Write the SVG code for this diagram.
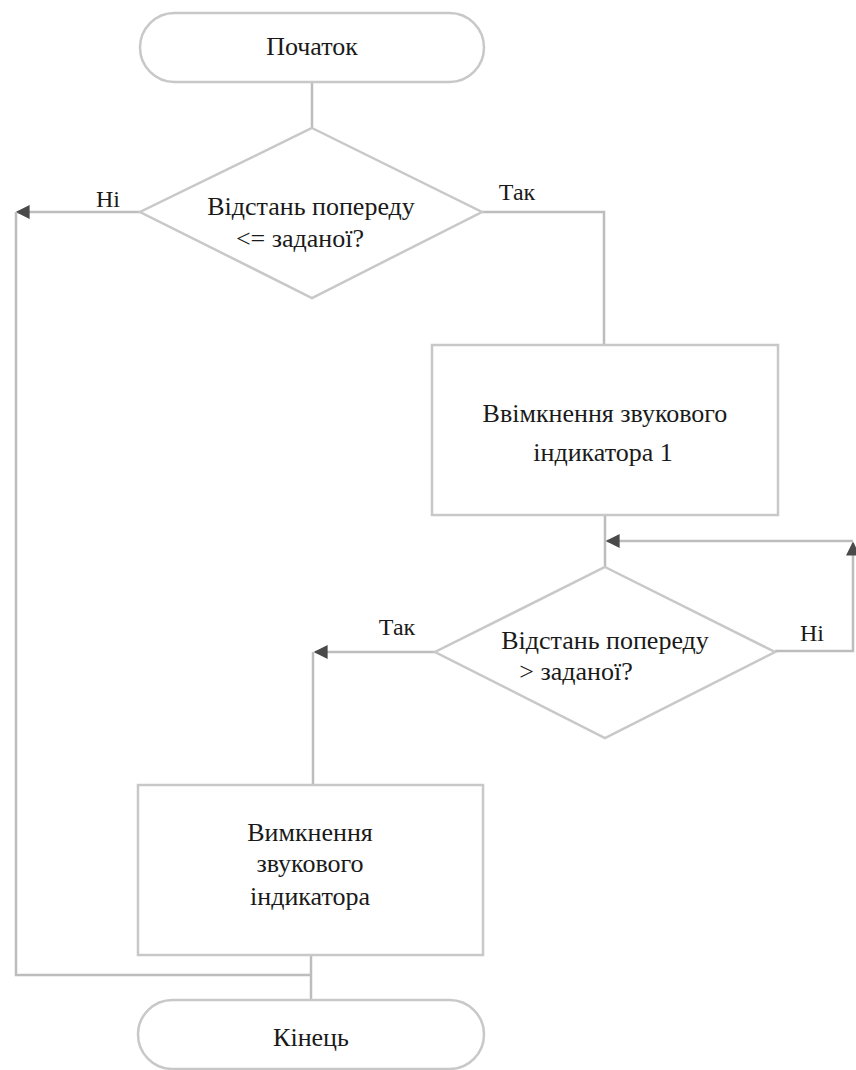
<svg xmlns="http://www.w3.org/2000/svg" width="856" height="1070" viewBox="0 0 856 1070">
<defs>
<style>
.shape{fill:#ffffff;stroke:#c8c8c8;stroke-width:2.5}
.conn{fill:none;stroke:#bdbdbd;stroke-width:2.5}
.t{font-family:"Liberation Serif","Times New Roman",serif;font-size:26px;fill:#1a1a1a;text-anchor:middle}
.lbl{font-family:"Liberation Serif","Times New Roman",serif;font-size:24px;fill:#1a1a1a;text-anchor:middle}
</style>
<marker id="arr" viewBox="0 0 10 10" refX="9" refY="5" markerWidth="18" markerHeight="14" markerUnits="userSpaceOnUse" orient="auto">
<path d="M0,0 L10,5 L0,10 z" fill="#4a4a4a"/>
</marker>
</defs>
<rect width="856" height="1070" fill="#ffffff"/>
<g id="connectors">
<line class="conn" x1="312" y1="82" x2="312" y2="128"/>
<path class="conn" d="M140,212 L17,212" marker-end="url(#arr)"/>
<path class="conn" d="M16,212 L16,975 L312,975"/>
<path class="conn" d="M482,212 L604,212 L604,345"/>
<line class="conn" x1="605" y1="515" x2="605" y2="567"/>
<path class="conn" d="M775,651 L853,651 L853,543" marker-end="url(#arr)"/>
<path class="conn" d="M853,541 L607,541" marker-end="url(#arr)"/>
<path class="conn" d="M435,652 L315,652" marker-end="url(#arr)"/>
<line class="conn" x1="313" y1="652" x2="313" y2="785"/>
<line class="conn" x1="311" y1="955" x2="311" y2="1000"/>
</g>
<g id="start">
<rect class="shape" x="140" y="13" width="344" height="69" rx="34.5"/>
<text class="t" x="312" y="55">Початок</text>
</g>
<g id="decision1">
<polygon class="shape" points="312,128 482,212 312,298 140,212"/>
<text class="t" x="311" y="215">Відстань попереду</text>
<text class="t" x="300" y="247">&lt;= заданої?</text>
</g>
<g id="label-ni1"><text class="lbl" x="108" y="207">Ні</text></g>
<g id="label-tak1"><text class="lbl" x="517" y="200">Так</text></g>
<g id="process1">
<rect class="shape" x="432" y="345" width="346" height="170"/>
<text class="t" x="605" y="422">Ввімкнення звукового</text>
<text class="t" x="603" y="461">індикатора 1</text>
</g>
<g id="decision2">
<polygon class="shape" points="605,567 775,652 605,738 435,652"/>
<text class="t" x="605" y="649">Відстань попереду</text>
<text class="t" x="576" y="680">&gt;  заданої?</text>
</g>
<g id="label-ni2"><text class="lbl" x="812" y="641">Ні</text></g>
<g id="label-tak2"><text class="lbl" x="397" y="635">Так</text></g>
<g id="process2">
<rect class="shape" x="138" y="785" width="345" height="170"/>
<text class="t" x="310" y="841">Вимкнення</text>
<text class="t" x="310" y="872">звукового</text>
<text class="t" x="310" y="905">індикатора</text>
</g>
<g id="end">
<rect class="shape" x="138" y="1000" width="346" height="69" rx="34.5"/>
<text class="t" x="311" y="1046">Кінець</text>
</g>
</svg>
